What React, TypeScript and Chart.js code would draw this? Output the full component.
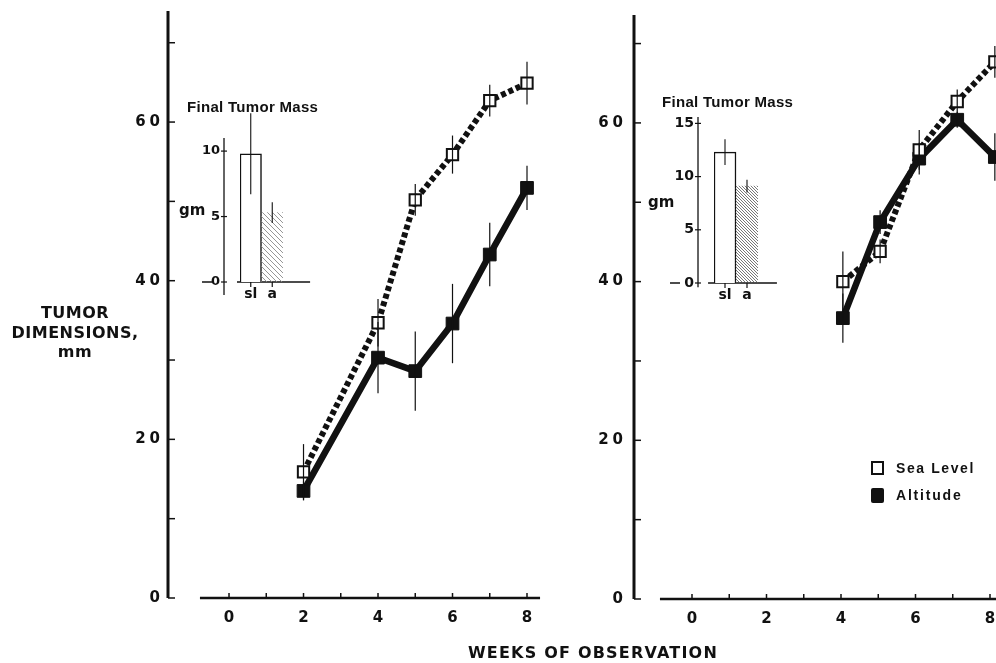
import React, { useEffect, useRef } from 'react';
import { Chart, registerables } from 'chart.js';

Chart.register(...registerables);

// ---------- data ----------
// Left panel (weeks of observation vs tumor dimensions, mm)
const leftWeeks = [2, 4, 5, 6, 7, 8];
const leftSeaLevel = [15.9, 34.7, 50.2, 55.9, 62.7, 64.9];
const leftSeaLevelErr = [3.5, 3, 2, 2.4, 2, 2.7];
const leftAltitude = [13.5, 30.3, 28.6, 34.6, 43.3, 51.7];
const leftAltitudeErr = [1.2, 4.5, 5, 5, 4, 2.8];

// Right panel
const rightWeeks = [4.05, 5.05, 6.1, 7.12, 8.13];
const rightSeaLevel = [40.0, 43.8, 56.6, 62.7, 67.7];
const rightSeaLevelErr = [3.8, 1.5, 2.5, 1.5, 2];
const rightAltitude = [35.4, 47.5, 55.5, 60.4, 55.7];
const rightAltitudeErr = [3.1, 1.5, 2, 1, 3];

// Insets: final tumor mass (gm)
const insetLabels = ['sl', 'a'];
const leftMass = [9.8, 5.3];
const leftMassErr = [3.1, 0.8];
const rightMass = [12.3, 9.1];
const rightMassErr = [1.2, 0.6];

// Tick labels / marks
const mainYLabels = [0, 20, 40, 60];
const mainYMarks = [0, 10, 20, 30, 40, 50, 60, 70];
const weekLabels = [0, 2, 4, 6, 8];
const weekMarks = [0, 1, 2, 3, 4, 5, 6, 7, 8];
const leftInsetYLabels = [0, 5, 10];
const rightInsetYLabels = [0, 5, 10, 15];

const INK = '#111';
const TICK_FONT = { family: 'DejaVu Sans', weight: 'bold' as const, size: 15 };

// ---------- plugins ----------
function makeAxes(o: any) {
  return {
    id: 'axes',
    beforeDatasetsDraw(chart: any) {
      const { ctx } = chart;
      const xs = chart.scales.x;
      const ys = chart.scales.y;
      ctx.save();
      ctx.strokeStyle = INK;
      ctx.lineCap = 'butt';
      const ax = xs.getPixelForValue(o.yAxisAt);
      ctx.lineWidth = o.yWidth;
      ctx.beginPath();
      ctx.moveTo(ax, ys.getPixelForValue(o.yFrom));
      ctx.lineTo(ax, ys.getPixelForValue(o.yTo));
      ctx.stroke();
      ctx.lineWidth = o.yTickWidth;
      for (const v of o.yTicks) {
        const py = ys.getPixelForValue(v);
        ctx.beginPath();
        ctx.moveTo(ax + o.yTickFrom, py);
        ctx.lineTo(ax + o.yTickTo, py);
        ctx.stroke();
      }
      if (o.zeroDash) {
        const py = ys.getPixelForValue(0);
        ctx.lineWidth = 1.5;
        ctx.beginPath();
        ctx.moveTo(ax + o.zeroDash[0], py);
        ctx.lineTo(ax + o.zeroDash[1], py);
        ctx.stroke();
      }
      const ay = ys.getPixelForValue(o.xAxisAt);
      ctx.lineWidth = o.xWidth;
      ctx.beginPath();
      ctx.moveTo(xs.getPixelForValue(o.xFrom), ay);
      ctx.lineTo(xs.getPixelForValue(o.xTo), ay);
      ctx.stroke();
      ctx.lineWidth = o.xTickWidth;
      for (const v of o.xTicks) {
        const px = xs.getPixelForValue(v);
        ctx.beginPath();
        ctx.moveTo(px, ay + o.xTickFrom);
        ctx.lineTo(px, ay + o.xTickTo);
        ctx.stroke();
      }
      ctx.restore();
    },
  };
}

function makeErrorBars(width: number) {
  return {
    id: 'errorBars',
    afterDatasetsDraw(chart: any) {
      const { ctx } = chart;
      const ys = chart.scales.y;
      ctx.save();
      ctx.strokeStyle = INK;
      ctx.lineWidth = width;
      chart.data.datasets.forEach((ds: any, i: number) => {
        if (!ds.errors) return;
        const meta = chart.getDatasetMeta(i);
        meta.data.forEach((el: any, j: number) => {
          const raw = ds.data[j];
          const v = typeof raw === 'number' ? raw : raw.y;
          const e = ds.errors[j];
          ctx.beginPath();
          ctx.moveTo(el.x, ys.getPixelForValue(v + e));
          ctx.lineTo(el.x, ys.getPixelForValue(v - e));
          ctx.stroke();
        });
      });
      ctx.restore();
    },
  };
}

function makeSpacing(px: number) {
  return {
    id: 'spacing',
    beforeDraw(chart: any) {
      chart.ctx.letterSpacing = px + 'px';
    },
    afterDraw(chart: any) {
      chart.ctx.letterSpacing = '0px';
    },
  };
}

function hatch(s: number, color: string, lw: number) {
  const c = document.createElement('canvas');
  c.width = s;
  c.height = s;
  const g = c.getContext('2d')!;
  g.strokeStyle = color;
  g.lineWidth = lw;
  for (const k of [-1, 0, 1]) {
    g.beginPath();
    g.moveTo(k * s, 0);
    g.lineTo(k * s + s, s);
    g.stroke();
  }
  return g.createPattern(c, 'repeat')!;
}

const fixX = (h: number) => (s: any) => {
  s.height = h;
  s.paddingLeft = 0;
  s.paddingRight = 0;
};
const fixY = (w: number) => (s: any) => {
  s.width = w;
  s.paddingTop = 0;
  s.paddingBottom = 0;
};

// ---------- config builders ----------
function mainConfig(p: {
  weeks: number[]; sl: number[]; slErr: number[]; alt: number[]; altErr: number[];
  xMin: number; xMax: number; yMax: number; padding: any; yLabelPad: number;
  xFrom: number; xTo: number;
}) {
  return {
    type: 'line',
    data: {
      datasets: [
        {
          label: 'Sea Level',
          data: p.weeks.map((w, i) => ({ x: w, y: p.sl[i] })),
          errors: p.slErr,
          borderColor: INK,
          borderWidth: 6,
          borderDash: [5, 3],
          pointStyle: 'rect',
          pointRadius: 8,
          pointBackgroundColor: '#fff',
          pointBorderColor: INK,
          pointBorderWidth: 2,
          clip: false,
        },
        {
          label: 'Altitude',
          data: p.weeks.map((w, i) => ({ x: w, y: p.alt[i] })),
          errors: p.altErr,
          borderColor: INK,
          borderWidth: 6.5,
          pointStyle: 'rect',
          pointRadius: 9,
          pointBackgroundColor: INK,
          pointBorderColor: INK,
          pointBorderWidth: 1,
          clip: false,
        },
      ],
    },
    options: {
      responsive: false,
      animation: false,
      devicePixelRatio: 1,
      layout: { padding: p.padding, autoPadding: false },
      plugins: { legend: { display: false }, tooltip: { enabled: false } },
      scales: {
        x: {
          type: 'linear',
          min: p.xMin,
          max: p.xMax,
          grid: { display: false, drawTicks: false },
          border: { display: false },
          afterBuildTicks: (s: any) => { s.ticks = weekLabels.map((v) => ({ value: v })); },
          afterFit: fixX(30),
          ticks: { font: TICK_FONT, color: INK, padding: 11, maxRotation: 0, labelOffset: 2 },
        },
        y: {
          min: 0,
          max: p.yMax,
          grid: { display: false, drawTicks: false },
          border: { display: false },
          afterBuildTicks: (s: any) => { s.ticks = mainYLabels.map((v) => ({ value: v })); },
          afterFit: fixY(40),
          ticks: { font: TICK_FONT, color: INK, padding: p.yLabelPad },
        },
      },
    },
    plugins: [
      makeSpacing(4),
      makeAxes({
        yAxisAt: p.xMin, yFrom: 0, yTo: p.yMax, yWidth: 3, yTickWidth: 1.5,
        yTicks: mainYMarks, yTickFrom: 0, yTickTo: 7,
        xAxisAt: 0, xFrom: p.xFrom, xTo: p.xTo, xWidth: 2.5, xTickWidth: 1.5,
        xTicks: weekMarks, xTickFrom: 0, xTickTo: -5,
      }),
      makeErrorBars(1.2),
    ],
  };
}

function insetConfig(p: {
  values: number[]; errs: number[]; yMax: number; yLabels: number[]; padding: any;
  pattern: CanvasPattern; yAxisAt: number; xFrom: number; xTo: number; yFrom: number;
  zeroDash: number[]; yFontSize: number;
}) {
  return {
    type: 'bar',
    data: {
      labels: insetLabels,
      datasets: [
        {
          data: p.values,
          errors: p.errs,
          backgroundColor: ['#fff', p.pattern],
          borderColor: [INK, 'rgba(0,0,0,0)'],
          borderWidth: [1.5, 0],
          borderSkipped: 'bottom',
          barPercentage: 1,
          categoryPercentage: 1,
        },
      ],
    },
    options: {
      responsive: false,
      animation: false,
      devicePixelRatio: 1,
      layout: { padding: p.padding, autoPadding: false },
      plugins: { legend: { display: false }, tooltip: { enabled: false } },
      scales: {
        x: {
          type: 'category',
          offset: true,
          grid: { display: false, drawTicks: false },
          border: { display: false },
          afterFit: fixX(20),
          ticks: { font: { family: 'DejaVu Sans', weight: 'bold', size: 14 }, color: INK, padding: 4 },
        },
        y: {
          min: 0,
          max: p.yMax,
          grid: { display: false, drawTicks: false },
          border: { display: false },
          afterBuildTicks: (s: any) => { s.ticks = p.yLabels.map((v) => ({ value: v })); },
          afterFit: fixY(40),
          ticks: { font: { family: 'DejaVu Sans', weight: 'bold', size: p.yFontSize }, color: INK, padding: 20 },
        },
      },
    },
    plugins: [
      makeAxes({
        yAxisAt: p.yAxisAt, yFrom: p.yFrom, yTo: p.yMax, yWidth: 1.3, yTickWidth: 1.2,
        yTicks: p.yLabels, yTickFrom: -3, yTickTo: 3, zeroDash: p.zeroDash,
        xAxisAt: 0, xFrom: p.xFrom, xTo: p.xTo, xWidth: 1.5, xTickWidth: 1.2,
        xTicks: [0, 1], xTickFrom: 0, xTickTo: 5,
      }),
      makeErrorBars(1.1),
    ],
  };
}

// ---------- components ----------
function ChartCanvas({ left, top, width, height, make }: any) {
  const ref = useRef<HTMLCanvasElement>(null);
  useEffect(() => {
    const chart = new Chart(ref.current as HTMLCanvasElement, make());
    return () => chart.destroy();
  }, []);
  return (
    <canvas
      ref={ref}
      width={width}
      height={height}
      style={{ position: 'absolute', left, top, width, height }}
    />
  );
}

const txt = (extra: any): any => ({
  position: 'absolute',
  color: INK,
  fontWeight: 'bold',
  whiteSpace: 'nowrap',
  ...extra,
});

export default function App() {
  return (
    <div
      style={{
        position: 'absolute', left: 0, top: 0, width: 996, height: 663,
        overflow: 'hidden', background: '#fff', fontFamily: 'DejaVu Sans',
      }}
    >
      <ChartCanvas
        left={0} top={0} width={560} height={663}
        make={() => mainConfig({
          weeks: leftWeeks, sl: leftSeaLevel, slErr: leftSeaLevelErr,
          alt: leftAltitude, altErr: leftAltitudeErr,
          xMin: -1.638, xMax: 8.51, yMax: 74,
          padding: { left: 128, top: 11, right: 14, bottom: 35 },
          yLabelPad: 4, xFrom: -0.78, xTo: 8.35,
        })}
      />
      <ChartCanvas
        left={560} top={0} width={436} height={663}
        make={() => mainConfig({
          weeks: rightWeeks, sl: rightSeaLevel, slErr: rightSeaLevelErr,
          alt: rightAltitude, altErr: rightAltitudeErr,
          xMin: -1.557, xMax: 8.161, yMax: 73.6,
          padding: { left: 34, top: 15, right: 0, bottom: 34 },
          yLabelPad: 7, xFrom: -0.86, xTo: 8.161,
        })}
      />
      <ChartCanvas
        left={170} top={100} width={160} height={230}
        make={() => insetConfig({
          values: leftMass, errs: leftMassErr, yMax: 11, yLabels: leftInsetYLabels,
          padding: { left: 30, top: 38, right: 47, bottom: 28 },
          pattern: hatch(5, '#8a8a8a', 0.9), yAxisAt: -1.244, xFrom: -0.64, xTo: 2.76,
          yFrom: -1, zeroDash: [-22, -12], yFontSize: 13,
        })}
      />
      <ChartCanvas
        left={640} top={90} width={160} height={230}
        make={() => insetConfig({
          values: rightMass, errs: rightMassErr, yMax: 15.6, yLabels: rightInsetYLabels,
          padding: { left: 34, top: 27, right: 42, bottom: 17 },
          pattern: hatch(3, '#555', 0.8), yAxisAt: -1.227, xFrom: -0.77, xTo: 2.36,
          yFrom: -0.4, zeroDash: [-28, -18], yFontSize: 14,
        })}
      />

      {/* axis titles */}
      <div style={txt({ left: 0, top: 303, width: 150, textAlign: 'center', fontSize: 16, lineHeight: '19.5px', letterSpacing: '0.5px' })}>
        TUMOR<br />DIMENSIONS,<br />mm
      </div>
      <div style={txt({ left: 393, top: 644, width: 400, textAlign: 'center', fontSize: 16, lineHeight: '18px', letterSpacing: '1.2px' })}>
        WEEKS OF OBSERVATION
      </div>

      {/* inset titles */}
      <div style={txt({ left: 187, top: 99, fontFamily: 'Liberation Sans', fontSize: 15, lineHeight: '16px', letterSpacing: '0.3px' })}>
        Final Tumor Mass
      </div>
      <div style={txt({ left: 179, top: 201, fontSize: 15, lineHeight: '18px' })}>gm</div>
      <div style={txt({ left: 662, top: 94, fontFamily: 'Liberation Sans', fontSize: 15, lineHeight: '16px', letterSpacing: '0.3px' })}>
        Final Tumor Mass
      </div>
      <div style={txt({ left: 648, top: 193, fontSize: 15, lineHeight: '18px' })}>gm</div>

      {/* legend */}
      <div style={{ position: 'absolute', left: 871, top: 461, width: 13, height: 14, border: '2.5px solid ' + INK, boxSizing: 'border-box', background: '#fff' }} />
      <div style={{ position: 'absolute', left: 871, top: 488, width: 13, height: 15, background: INK, borderRadius: 2 }} />
      <div style={txt({ left: 896, top: 460, fontFamily: 'Liberation Sans', fontSize: 14, lineHeight: '16px', letterSpacing: '1.6px' })}>Sea Level</div>
      <div style={txt({ left: 896, top: 487, fontFamily: 'Liberation Sans', fontSize: 14, lineHeight: '16px', letterSpacing: '1.8px' })}>Altitude</div>
    </div>
  );
}
